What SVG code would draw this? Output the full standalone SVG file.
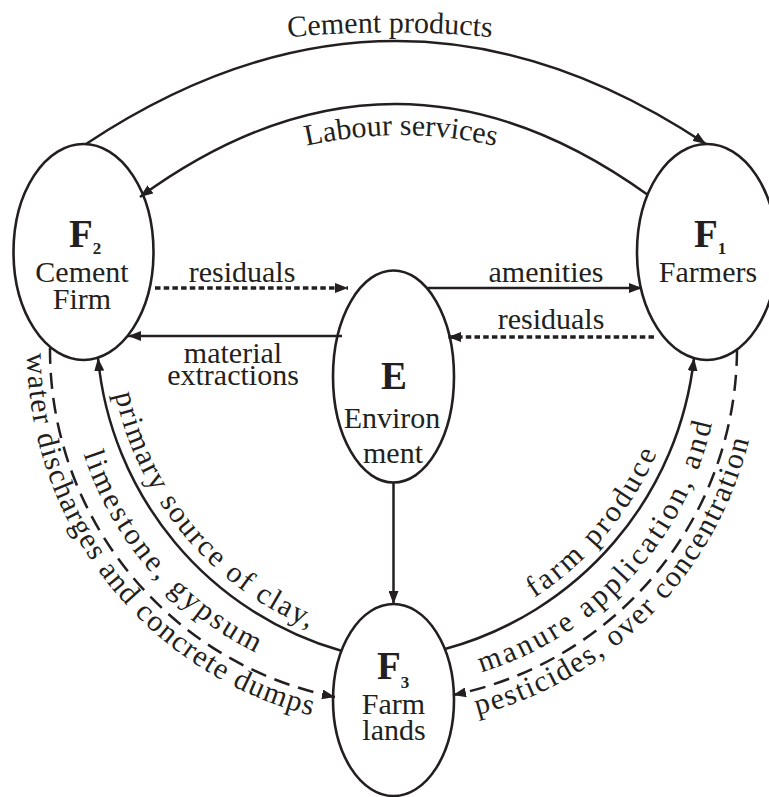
<svg xmlns="http://www.w3.org/2000/svg" width="769" height="797" viewBox="0 0 769 797">
<style>
.node ellipse{fill:#fff;stroke:#231f20;stroke-width:2.6}
text{font-family:"Liberation Serif","Times New Roman",serif;font-size:30px;fill:#231f20}
.c{text-anchor:middle}
.big{font-weight:bold;font-size:39px}
.sub{font-weight:bold;font-size:17px}
.edge{fill:none;stroke:#231f20;stroke-width:2.5}
.dot{stroke-width:3.4;stroke-dasharray:5.5 3.2}
.dash{stroke-dasharray:16 9}
</style>
<defs>
<marker id="ah" markerUnits="userSpaceOnUse" viewBox="0 0 13 10" refX="13" refY="5" markerWidth="13" markerHeight="10" orient="auto"><path d="M0,0 L13,5 L0,10 z" fill="#231f20"/></marker>
<path id="tpCement" d="M270,39 A1105,1105 0 0 1 510,39"/>
<path id="tpLabour" d="M290,150 A423,423 0 0 1 512,150"/>
<path id="tpPrimary" d="M115.2,394 A327,327 0 0 0 378.2,648"/>
<path id="tpLime" d="M83.5,454.1 A337,337 0 0 0 345.5,681.9"/>
<path id="tpWater" d="M27,353.3 A377,377 0 0 0 371.1,725.6"/>
<path id="tpFarm" d="M534.2,597.9 A329,329 0 0 0 684,322"/>
<path id="tpManure" d="M481.5,672.3 A337,337 0 0 0 720,350"/>
<path id="tpPest" d="M477.4,715 A377,377 0 0 0 760,350"/>
</defs>
<rect width="769" height="797" fill="#fff"/>

<g id="F2" class="node">
<ellipse cx="83.5" cy="252" rx="70" ry="108"/>
<text class="big" x="69" y="247">F<tspan class="sub" dy="7">2</tspan></text>
<text class="c" x="82" y="282">Cement</text>
<text class="c" x="82" y="309">Firm</text>
</g>
<g id="F1" class="node">
<ellipse cx="707" cy="252" rx="70" ry="108"/>
<text class="big" x="694" y="247">F<tspan class="sub" dy="7">1</tspan></text>
<text class="c" x="708" y="282">Farmers</text>
</g>
<g id="E" class="node">
<ellipse cx="393.5" cy="376.5" rx="60.5" ry="106"/>
<text class="big c" x="394" y="389">E</text>
<text class="c" x="392" y="428">Environ</text>
<text class="c" x="393" y="463">ment</text>
</g>
<g id="F3" class="node">
<ellipse cx="393.5" cy="700" rx="60.5" ry="96"/>
<text class="big" x="377" y="679">F<tspan class="sub" dy="9">3</tspan></text>
<text class="c" x="393.5" y="714">Farm</text>
<text class="c" x="394" y="740">lands</text>
</g>

<g id="connectors">
<path class="edge" d="M86,144 Q396,-62 706,144" marker-end="url(#ah)"/>
<path class="edge" d="M648,195 Q394,12 140,197" marker-end="url(#ah)"/>
<path class="edge dot" d="M155,288 L348,288" marker-end="url(#ah)"/>
<path class="edge" d="M342,336 L128,336" marker-end="url(#ah)"/>
<path class="edge" d="M428,288 L642,288" marker-end="url(#ah)"/>
<path class="edge dot" d="M654,337 L448,337" marker-end="url(#ah)"/>
<path class="edge" d="M393.5,482 L393.5,604" marker-end="url(#ah)"/>
<path class="edge" d="M342,651 A338,338 0 0 1 98,358" marker-end="url(#ah)"/>
<path class="edge" d="M445,649 A340,340 0 0 0 694,358" marker-end="url(#ah)"/>
<path class="edge dash" d="M50,348 A354,354 0 0 0 335,697" marker-end="url(#ah)"/>
<path class="edge dash" d="M737,350 A354,354 0 0 1 453,695" marker-end="url(#ah)"/>
</g>

<g id="labels">
<text class="c"><textPath href="#tpCement" startOffset="50%">Cement products</textPath></text>
<text class="c"><textPath href="#tpLabour" startOffset="50%">Labour services</textPath></text>
<text class="c" x="242" y="282">residuals</text>
<text class="c" x="233" y="363">material</text>
<text class="c" x="233" y="385">extractions</text>
<text class="c" x="546" y="282">amenities</text>
<text class="c" x="551" y="329">residuals</text>
<text letter-spacing="1.8"><textPath href="#tpPrimary">primary source of clay,</textPath></text>
<text letter-spacing="2.7"><textPath href="#tpLime">limestone, gypsum</textPath></text>
<text letter-spacing="1.4"><textPath href="#tpWater">water discharges and concrete dumps</textPath></text>
<text letter-spacing="2.9"><textPath href="#tpFarm">farm produce</textPath></text>
<text letter-spacing="3"><textPath href="#tpManure">manure application, and</textPath></text>
<text letter-spacing="1.65"><textPath href="#tpPest">pesticides, over concentration</textPath></text>
</g>
</svg>
